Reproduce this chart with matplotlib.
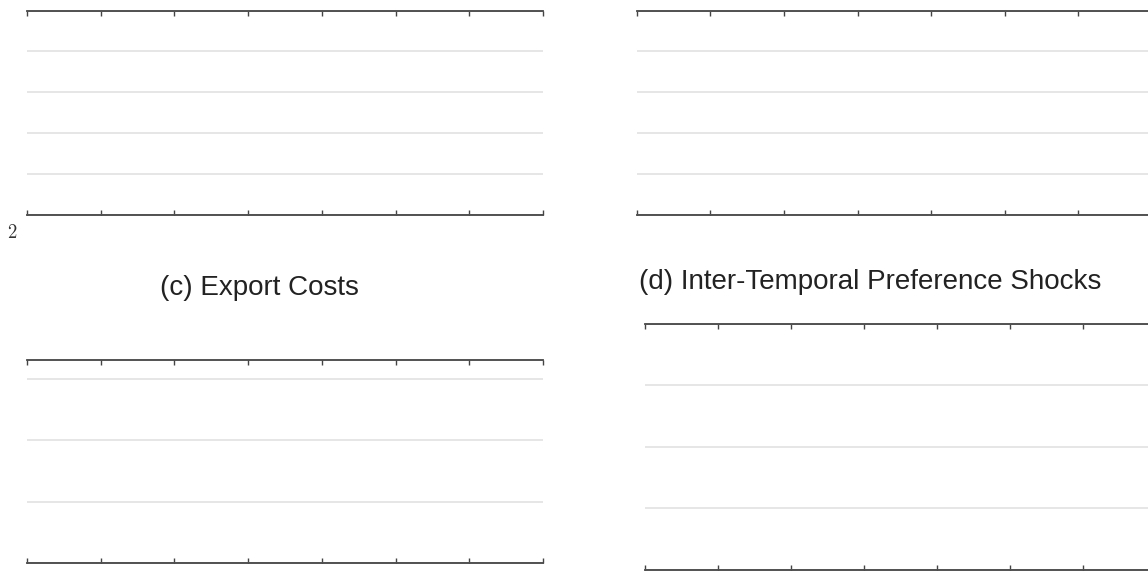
#!/usr/bin/env python3
"""
plot.py

Four-panel figure fragment: empty panels with top/bottom frame,
inward ticks and light horizontal grid lines.
"""

import matplotlib
matplotlib.use('Agg')
import matplotlib.pyplot as plt

# ============================================================================
# Data: axis ranges and tick positions for each panel
# ============================================================================

x_ticks = [0, 1, 2, 3, 4, 5, 6, 7]

top_yticks = [0, 1, 2, 3, 4, 5]
top_ylim = (0, 5)

c_yticks = [0, 1, 2, 3]
c_ylim = (0, 3.31)

d_yticks = [0, 1, 2, 3, 4]
d_ylim = (0, 4)

titles = ['(c) Export Costs', '(d) Inter-Temporal Preference Shocks']
stray_label = '$2$'

plt.rcParams['mathtext.fontset'] = 'cm'

SPINE = '#444444'
GRID = '#e2e2e2'


def style_axes(ax, yticks, ylim):
    """Only top/bottom spines, inward x ticks, horizontal grid."""
    ax.set_xlim(x_ticks[0], x_ticks[-1])
    ax.set_ylim(*ylim)
    ax.set_xticks(x_ticks)
    ax.set_yticks(yticks)
    ax.set_xticklabels([])
    ax.set_yticklabels([])
    ax.tick_params(axis='x', direction='in', top=True, bottom=True,
                   length=3.6, width=1.0, color=SPINE)
    ax.tick_params(axis='y', left=False, right=False, length=0)
    for side in ['left', 'right']:
        ax.spines[side].set_visible(False)
    for side in ['top', 'bottom']:
        ax.spines[side].set_color(SPINE)
        ax.spines[side].set_linewidth(1.3)
        ax.spines[side].set_zorder(3)
    ax.grid(axis='y', color=GRID, linewidth=1.2, zorder=0)
    ax.grid(axis='x', visible=False)
    ax.set_facecolor('white')


fig = plt.figure(figsize=(11.48, 5.71), dpi=100)

# Panel positions (figure fraction)
ax_a = fig.add_axes([0.0235, 0.6240, 0.4495, 0.3576])
ax_b = fig.add_axes([0.5546, 0.6240, 0.4489, 0.3576])
ax_c = fig.add_axes([0.0235, 0.0135, 0.4495, 0.3560])
ax_d = fig.add_axes([0.5618, 0.0026, 0.4451, 0.4300])

style_axes(ax_a, top_yticks, top_ylim)
style_axes(ax_b, top_yticks, top_ylim)
style_axes(ax_c, c_yticks, c_ylim)
style_axes(ax_d, d_yticks, d_ylim)

# Panel titles
fig.text(259 / 1148, 1 - 288 / 571, titles[0], ha='center', va='center',
         fontsize=20, family='Liberation Sans', color='#222222')
fig.text(870 / 1148, 1 - 282 / 571, titles[1], ha='center', va='center',
         fontsize=20, family='Liberation Sans', color='#222222')

# Left-over tick label from the panel above
fig.text(12 / 1148, 1 - 232 / 571, stray_label, ha='center', va='center',
         fontsize=13.5, color='#333333')

fig.savefig('out.png', dpi=100, facecolor='white')
plt.close(fig)
